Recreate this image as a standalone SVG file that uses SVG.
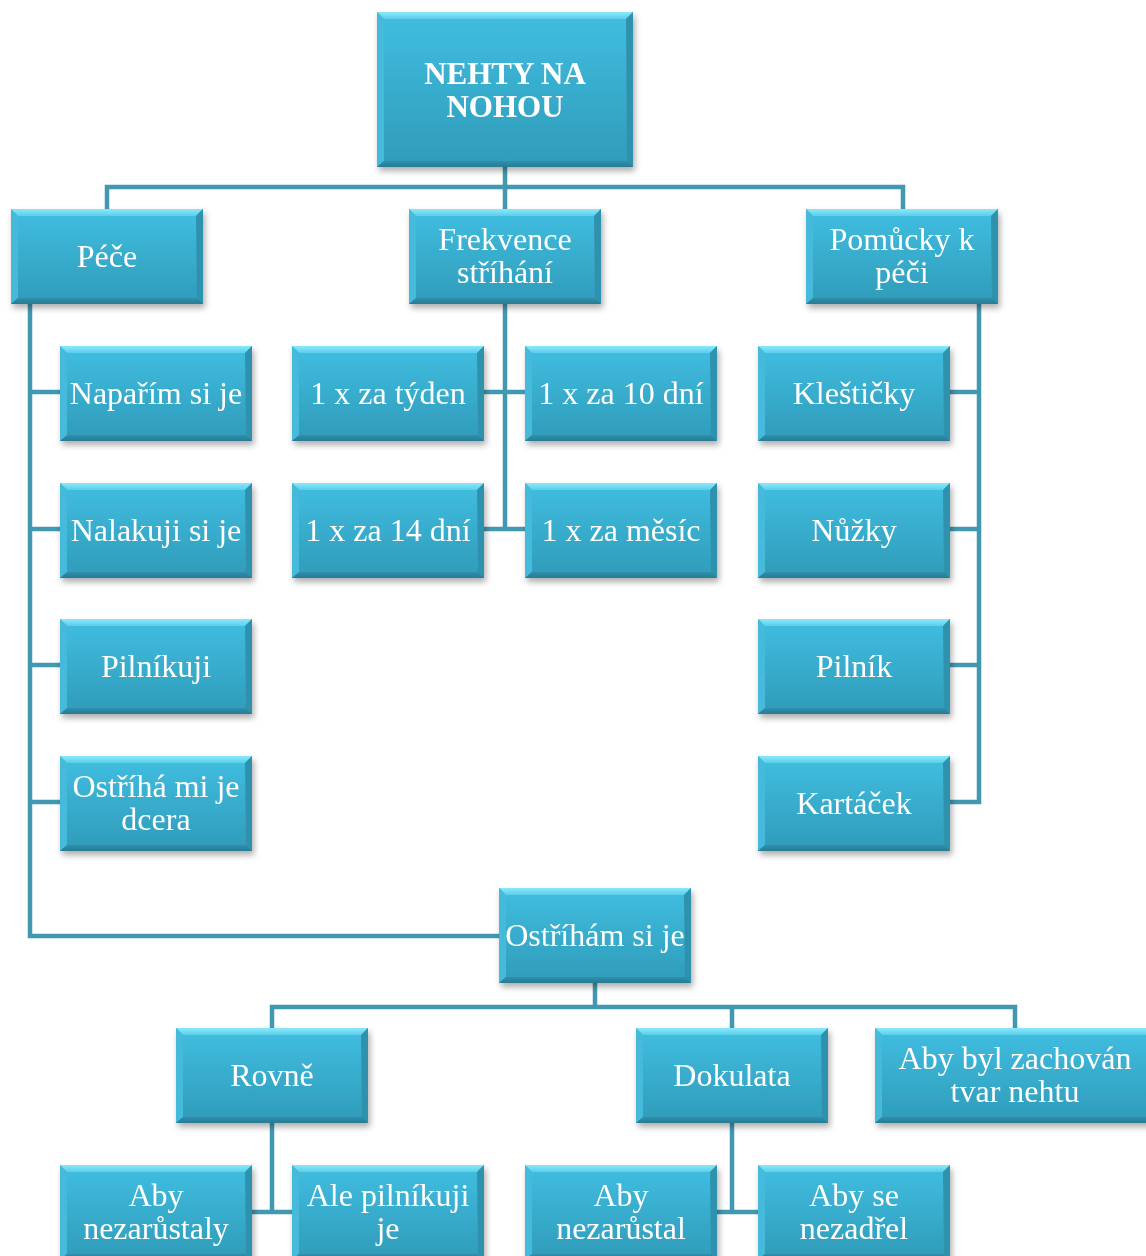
<svg xmlns="http://www.w3.org/2000/svg" xmlns:xlink="http://www.w3.org/1999/xlink" width="1146" height="1256" viewBox="0 0 1146 1256">
  <style>
    .lnk { fill: none; stroke: #4199b1; stroke-width: 4.5; stroke-linecap: square; }
    .node { filter: url(#shadow); }
    .lbl { font-family: "Liberation Serif", "Times New Roman", serif; font-size: 32px; fill: #ffffff; text-anchor: middle; }
    .root { font-weight: bold; font-size: 31px; }
  </style>
  <defs>
    <linearGradient id="face" x1="0" y1="0" x2="0" y2="1">
      <stop offset="0" stop-color="#40bee1"/>
      <stop offset="1" stop-color="#309bb9"/>
    </linearGradient>
    <linearGradient id="topEdge" x1="0" y1="0" x2="0" y2="1">
      <stop offset="0" stop-color="#8ae8fa"/>
      <stop offset="1" stop-color="#5acfeb"/>
    </linearGradient>
    <linearGradient id="botEdge" x1="0" y1="0" x2="0" y2="1">
      <stop offset="0" stop-color="#2e90ad"/>
      <stop offset="1" stop-color="#2a7b93"/>
    </linearGradient>
    <filter id="shadow" x="-10%" y="-10%" width="125%" height="130%">
      <feDropShadow dx="2" dy="4" stdDeviation="3" flood-color="#000000" flood-opacity="0.32"/>
    </filter>
    <!-- standard bevelled box, 192 x 95 -->
    <symbol id="box" viewBox="0 0 192 95" overflow="visible">
      <rect x="0" y="0" width="192" height="95" fill="url(#face)"/>
      <polygon points="0,0 192,0 185,7 7,7" fill="url(#topEdge)"/>
      <polygon points="0,0 7,7 7,89 0,95" fill="#44badb"/>
      <polygon points="192,0 192,95 186,89 185,7" fill="#2e92af"/>
      <polygon points="0,95 7,89 186,89 192,95" fill="url(#botEdge)"/>
    </symbol>
  </defs>

  <rect width="1146" height="1256" fill="#ffffff"/>

  <g id="connectors">
    <path class="lnk" d="M505,167 V209 M107,209 V187 H903 V209"/>
    <path class="lnk" d="M30,304 V936 H499 M30,392 H60 M30,529 H60 M30,665 H60 M30,802 H60"/>
    <path class="lnk" d="M505,304 V529 M485,392 H525 M485,529 H525"/>
    <path class="lnk" d="M979,304 V802 M950,392 H979 M950,529 H979 M950,665 H979 M950,802 H979"/>
    <path class="lnk" d="M595,983 V1007 M272,1028 V1007 H1015 V1028 M732,1007 V1028"/>
    <path class="lnk" d="M272,1124 V1212 M252,1212 H292"/>
    <path class="lnk" d="M732,1124 V1212 M718,1212 H758"/>
  </g>

  <g id="n-root" class="node">
    <rect x="377" y="12" width="256" height="155" fill="url(#face)"/>
    <polygon points="377,12 633,12 626,19 384,19" fill="url(#topEdge)"/>
    <polygon points="377,12 384,19 384,161 377,167" fill="#44badb"/>
    <polygon points="633,12 633,167 627,161 626,19" fill="#2e92af"/>
    <polygon points="377,167 384,161 627,161 633,167" fill="url(#botEdge)"/>
    <text class="lbl root" x="505" y="84">NEHTY NA</text>
    <text class="lbl root" x="505" y="117">NOHOU</text>
  </g>

  <g id="n-pece" class="node"><use href="#box" x="11" y="209" width="192" height="95"/><text class="lbl" x="107" y="267">Péče</text></g>
  <g id="n-frekvence" class="node"><use href="#box" x="409" y="209" width="192" height="95"/><text class="lbl" x="505" y="250">Frekvence</text><text class="lbl" x="505" y="283">stříhání</text></g>
  <g id="n-pomucky" class="node"><use href="#box" x="806" y="209" width="192" height="95"/><text class="lbl" x="902" y="250">Pomůcky k</text><text class="lbl" x="902" y="283">péči</text></g>

  <g id="n-naparim" class="node"><use href="#box" x="60" y="346" width="192" height="95"/><text class="lbl" x="156" y="404">Napařím si je</text></g>
  <g id="n-nalakuji" class="node"><use href="#box" x="60" y="483" width="192" height="95"/><text class="lbl" x="156" y="541">Nalakuji si je</text></g>
  <g id="n-pilnikuji" class="node"><use href="#box" x="60" y="619" width="192" height="95"/><text class="lbl" x="156" y="677">Pilníkuji</text></g>
  <g id="n-dcera" class="node"><use href="#box" x="60" y="756" width="192" height="95"/><text class="lbl" x="156" y="797">Ostříhá mi je</text><text class="lbl" x="156" y="830">dcera</text></g>

  <g id="n-tyden" class="node"><use href="#box" x="292" y="346" width="192" height="95"/><text class="lbl" x="388" y="404">1 x za týden</text></g>
  <g id="n-10dni" class="node"><use href="#box" x="525" y="346" width="192" height="95"/><text class="lbl" x="621" y="404">1 x za 10 dní</text></g>
  <g id="n-14dni" class="node"><use href="#box" x="292" y="483" width="192" height="95"/><text class="lbl" x="388" y="541">1 x za 14 dní</text></g>
  <g id="n-mesic" class="node"><use href="#box" x="525" y="483" width="192" height="95"/><text class="lbl" x="621" y="541">1 x za měsíc</text></g>

  <g id="n-klesticky" class="node"><use href="#box" x="758" y="346" width="192" height="95"/><text class="lbl" x="854" y="404">Kleštičky</text></g>
  <g id="n-nuzky" class="node"><use href="#box" x="758" y="483" width="192" height="95"/><text class="lbl" x="854" y="541">Nůžky</text></g>
  <g id="n-pilnik" class="node"><use href="#box" x="758" y="619" width="192" height="95"/><text class="lbl" x="854" y="677">Pilník</text></g>
  <g id="n-kartacek" class="node"><use href="#box" x="758" y="756" width="192" height="95"/><text class="lbl" x="854" y="814">Kartáček</text></g>

  <g id="n-ostriham" class="node"><use href="#box" x="499" y="888" width="192" height="95"/><text class="lbl" x="595" y="946">Ostříhám si je</text></g>

  <g id="n-rovne" class="node"><use href="#box" x="176" y="1028" width="192" height="95"/><text class="lbl" x="272" y="1086">Rovně</text></g>
  <g id="n-dokulata" class="node"><use href="#box" x="636" y="1028" width="192" height="95"/><text class="lbl" x="732" y="1086">Dokulata</text></g>
  <g id="n-tvar" class="node">
    <rect x="875" y="1028" width="280" height="95" fill="url(#face)"/>
    <polygon points="875,1028 1155,1028 1148,1035 882,1035" fill="url(#topEdge)"/>
    <polygon points="875,1028 882,1035 882,1117 875,1123" fill="#44badb"/>
    <polygon points="875,1123 882,1117 1149,1117 1155,1123" fill="url(#botEdge)"/>
    <text class="lbl" x="1015" y="1069">Aby byl zachován</text>
    <text class="lbl" x="1015" y="1102">tvar nehtu</text>
  </g>

  <g id="n-nezarustaly" class="node"><use href="#box" x="60" y="1165" width="192" height="95"/><text class="lbl" x="156" y="1206">Aby</text><text class="lbl" x="156" y="1239">nezarůstaly</text></g>
  <g id="n-pilnikuji-je" class="node"><use href="#box" x="292" y="1165" width="192" height="95"/><text class="lbl" x="388" y="1206">Ale pilníkuji</text><text class="lbl" x="388" y="1239">je</text></g>
  <g id="n-nezarustal" class="node"><use href="#box" x="525" y="1165" width="192" height="95"/><text class="lbl" x="621" y="1206">Aby</text><text class="lbl" x="621" y="1239">nezarůstal</text></g>
  <g id="n-nezadrel" class="node"><use href="#box" x="758" y="1165" width="192" height="95"/><text class="lbl" x="854" y="1206">Aby se</text><text class="lbl" x="854" y="1239">nezadřel</text></g>
</svg>
